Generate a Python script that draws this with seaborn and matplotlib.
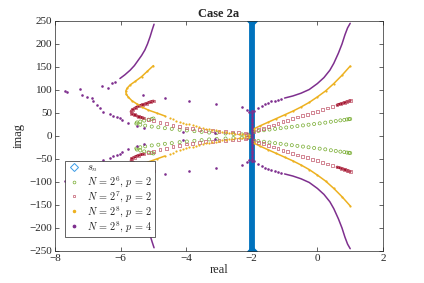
"""Case 2a: eigenvalue locations in the complex plane"""

import matplotlib
matplotlib.use("Agg")
import matplotlib.pyplot as plt
from matplotlib.lines import Line2D
import seaborn as sns

sns.set_style("ticks")
plt.rcParams.update({
    "font.family": ["Liberation Serif", "DejaVu Serif"],
    "mathtext.fontset": "cm",
    "font.size": 8,
    "axes.edgecolor": "#262626",
    "axes.linewidth": 0.5,
})

C_SN = "#0072BD"
C_G = "#77AC30"
C_R = "#A2142F"
C_O = "#EDB120"
C_P = "#7E2F8E"

# s_n : points on the line real = -2
sn_imag = [-250, -240, -230, -220, -210, -200, -190, -180, -170, -160, -150, -140, -130,
           -120, -110, -100, -90, -80, -70, -60, -50, -40, -30, -20, -10, 0, 10, 20, 30,
           40, 50, 60, 70, 80, 90, 100, 110, 120, 130, 140, 150, 160, 170, 180, 190, 200,
           210, 220, 230, 240, 250]

# upper half-plane branches (lower half is the complex conjugate)
# N = 2^6, p = 2
g_left_re = [-2.3, -2.56, -2.8, -3.07, -3.3, -3.53, -3.75, -3.98, -4.2, -4.44, -4.65, -4.85,
             -5.05, -5.25, -5.4, -5.52, -5.5, -5.4, -5.28, -5.15, -5.05, -5.0]
g_left_im = [3.5, 4.5, 5.5, 6.5, 7.5, 9, 10.5, 12, 13.5, 15.5, 17, 19,
             20.5, 22.5, 24.5, 27, 29.5, 31.5, 33.5, 35.5, 37, 38]
g_right_re = [-2.1, -1.95, -1.8, -1.63, -1.46, -1.29, -1.12, -0.95, -0.78, -0.61, -0.44, -0.27,
              -0.1, 0.07, 0.24, 0.41, 0.56, 0.7, 0.82, 0.9, 0.96, 1.0]
g_right_im = [3, 10, 11, 12.5, 14, 15.5, 17, 18.5, 20, 21.5, 23, 24.5,
              26, 27.5, 29, 31, 32.5, 34, 35, 36, 36.5, 37]

# N = 2^7, p = 2
r_left_re = [-2.15, -2.2, -2.4, -2.6, -2.8, -3.0, -3.2, -3.4, -3.6, -3.8, -4.0, -4.2, -4.4,
             -4.6, -4.8, -5.0, -5.15, -5.3, -5.45, -5.58, -5.66, -5.68, -5.64, -5.55, -5.45,
             -5.33, -5.2, -5.1, -5.0]
r_left_im = [3, 6.5, 7.5, 8.5, 9.5, 10.5, 11.5, 12.5, 14, 15.5, 17.5, 20, 23,
             26.5, 29.5, 33, 36, 39, 42, 46, 49, 53, 57, 61, 65,
             68, 71, 74, 76]
r_right_re = [-1.95, -1.8, -1.65, -1.5, -1.35, -1.2, -1.05, -0.9, -0.75, -0.6, -0.45, -0.3,
              -0.15, 0.0, 0.15, 0.3, 0.45, 0.6, 0.72, 0.82, 0.9, 0.96, 1.0]
r_right_im = [10, 13.5, 17, 20.5, 24, 27.5, 31, 34.5, 38, 41.5, 44.5, 47.5,
              51, 54, 57.5, 61, 64, 67.5, 70, 72.5, 74.5, 76, 77]

# N = 2^8, p = 2
o_left_re = [-2.1, -2.2, -2.3, -2.4, -2.5, -2.6, -2.7, -2.8, -2.9, -3.0, -3.1, -3.2, -3.3,
             -3.4, -3.5, -3.6, -3.7, -3.8, -3.9, -4.0, -4.1, -4.2, -4.3, -4.4, -4.5,
             -4.65, -4.9, -5.16, -5.35, -5.51, -5.66, -5.77, -5.83, -5.84, -5.8, -5.71,
             -5.55, -5.36, -5.18, -5.0]
o_left_im = [2.5, 3, 3.5, 4.5, 5, 6, 7, 8, 9.5, 10.5, 12, 13, 14.5,
             16, 18, 19.5, 21, 23, 25, 27, 29, 31, 33.5, 36, 38.5,
             43.5, 50, 56.5, 63, 70, 77, 85, 91, 98, 104, 111,
             119, 129, 141, 153]
o_right_re = [-1.97, -1.92, -1.75, -1.5, -1.25, -1.0, -0.75, -0.5, -0.25, 0.0, 0.25, 0.5,
              0.75, 1.0]
o_right_im = [10, 16, 22, 30, 38, 46, 54, 63, 73, 85, 98, 114, 132, 152]

# N = 2^8, p = 4
p_left_re = [-4.98, -5.04, -5.1, -5.18, -5.26, -5.36, -5.46, -5.58, -5.71, -5.87, -6.02]
p_left_im = [243, 230, 216, 200, 187, 175, 165, 153, 143, 133, 125]
p_scat_re = [-6.17, -6.27, -6.37, -6.58, -7.24, -7.64, -7.7, -7.19, -7.03, -6.88, -6.83,
             -6.73, -6.63, -6.53, -6.32, -6.22, -6.12, -6.02, -5.97, -5.77, -5.5, -5.3,
             -4.09, -3.12, -5.31, -4.65, -3.9, -3.1, -2.31, -2.16, -2.08]
p_scat_im = [118, 114.5, 104, 109, 101.5, 96, 98.5, 89, 85, 82, 75,
             67, 60, 53, 47, 43.5, 40.6, 38.5, 35, 29, 22, 17,
             9.4, 5.8, 89, 82, 77, 70, 64, 57, 52]
p_axis_im = [2, 8, 14, 20, 26, 32, 38, 44, 50, 55]
p_rdot_re = [-1.92, -1.82, -1.7, -1.6, -1.5, -1.4, -1.3, -1.2, -1.1]
p_rdot_im = [55, 60, 65, 69, 72, 75, 77, 79, 81]
p_right_re = [-1.0, -0.75, -0.5, -0.25, 0.0, 0.2, 0.38, 0.5, 0.64, 0.75, 0.84, 0.92, 1.0]
p_right_im = [82.5, 87, 93, 101, 114, 127, 143, 158, 180, 200, 220, 235, 245]


def both(re, im):
    return list(re) + list(re), list(im) + [-v for v in im]


fig = plt.figure(figsize=(4.24, 2.83), dpi=100)
ax = fig.add_axes([0.1297, 0.1131, 0.7736, 0.8127])

# s_n column: dense diamonds merge into one bar
ax.plot([-2] * len(sn_imag), sn_imag, ls="-", lw=4.2, color=C_SN, marker="D",
        markersize=4.6, markevery=[0, len(sn_imag) - 1], markerfacecolor=C_SN,
        markeredgecolor=C_SN, markeredgewidth=0.5, solid_capstyle="butt", zorder=2)

# solid-looking dense parts
dense = [
    (r_left_re[-12:], r_left_im[-12:], C_R, 2.0),
    (r_right_re[-6:], r_right_im[-6:], C_R, 2.0),
    (o_left_re[-15:], o_left_im[-15:], C_O, 1.1),
    (o_right_re, o_right_im, C_O, 1.1),
    (p_left_re, p_left_im, C_P, 1.1),
    (p_right_re, p_right_im, C_P, 1.1),
]
for re, im, col, lw in dense:
    for s in (1, -1):
        ax.plot(re, [s * v for v in im], color=col, lw=lw, solid_capstyle="round", zorder=3)

x, y = both(g_left_re + g_right_re, g_left_im + g_right_im)
sns.scatterplot(x=x, y=y, ax=ax, marker="o", s=5, facecolors="none", edgecolor=C_G,
                linewidth=0.5, zorder=4)
x, y = both(r_left_re + r_right_re, r_left_im + r_right_im)
sns.scatterplot(x=x, y=y, ax=ax, marker="s", s=4, facecolors="none", edgecolor="#c0566a",
                linewidth=0.5, zorder=4)
x, y = both(o_left_re + o_right_re, o_left_im + o_right_im)
sns.scatterplot(x=x, y=y, ax=ax, marker="o", s=2.5, color=C_O, linewidth=0, zorder=5)
x, y = both(p_scat_re + p_rdot_re + [-1.98] * len(p_axis_im), p_scat_im + p_rdot_im + p_axis_im)
sns.scatterplot(x=x, y=y, ax=ax, marker="o", s=3.5, color=C_P, linewidth=0, zorder=5)
ax.plot([-1.98, -1.98], [-56, 56], color=C_P, lw=1.0, zorder=5)

ax.set_xlim(-8, 2)
ax.set_ylim(-250, 250)
ax.set_xticks([-8, -6, -4, -2, 0, 2])
ax.set_yticks(range(-250, 251, 50))
ax.tick_params(direction="in", length=3, width=0.5, top=True, right=True, labelsize=8, pad=2)
for sp in ax.spines.values():
    sp.set_visible(True)
    sp.set_color("#262626")
ax.set_xlabel("real", fontsize=9, labelpad=1)
ax.set_ylabel("imag", fontsize=9, labelpad=3)
ax.set_title("Case 2a", fontsize=9, fontweight="bold", pad=3)

handles = [
    Line2D([], [], ls="none", marker="D", markersize=3.8, markerfacecolor="none",
           markeredgecolor="#3a9be6", markeredgewidth=0.7),
    Line2D([], [], ls="none", marker="o", markersize=2.0, markerfacecolor="none",
           markeredgecolor=C_G, markeredgewidth=0.5),
    Line2D([], [], ls="none", marker="s", markersize=1.9, markerfacecolor="none",
           markeredgecolor="#c0566a", markeredgewidth=0.5),
    Line2D([], [], ls="none", marker="o", markersize=1.5, color=C_O),
    Line2D([], [], ls="none", marker="o", markersize=1.7, color=C_P),
]
labels = [r"$s_n$", r"$N\,=\,2^6,\,p\,=\,2$", r"$N\,=\,2^7,\,p\,=\,2$",
          r"$N\,=\,2^8,\,p\,=\,2$", r"$N\,=\,2^8,\,p\,=\,4$"]
leg = ax.legend(handles, labels, loc="lower left", bbox_to_anchor=(0.03, 0.062),
                fontsize=7.4, frameon=True, fancybox=False, framealpha=1, edgecolor="#262626",
                handlelength=1.2, handletextpad=0.7, borderpad=0.25, labelspacing=0.0,
                borderaxespad=0)
leg.get_frame().set_linewidth(0.5)
leg.set_zorder(10)

fig.savefig("out.png", dpi=100, facecolor="white")
